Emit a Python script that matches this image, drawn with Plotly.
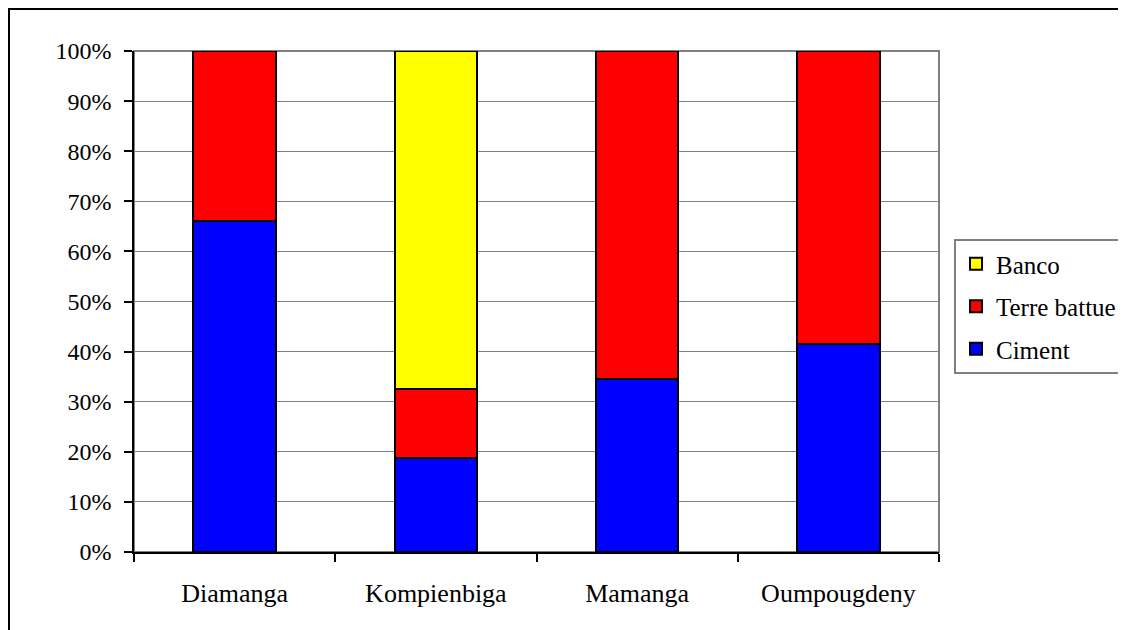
import plotly.graph_objects as go

# Share of each floor type per village (percent).
villages = ['Diamanga', 'Kompienbiga', 'Mamanga', 'Oumpougdeny']
ciment = [66.1, 18.8, 34.5, 41.5]
terre_battue = [33.9, 13.7, 65.5, 58.5]
banco = [0, 67.5, 0, 0]
y_ticks = [0, 10, 20, 30, 40, 50, 60, 70, 80, 90, 100]
y_labels = ['0%', '10%', '20%', '30%', '40%', '50%', '60%', '70%', '80%', '90%', '100%']

# The page body has an 8px margin, so the figure is drawn 8px smaller
# and every position below is in figure pixels (reference minus 8).
OFF = 8
W, H = 1126 - OFF, 630 - OFF
L, R, T, B = 134 - OFF, 1126 - 939, 51 - OFF, 630 - 552
pw, ph = W - L - R, H - T - B
FONT = 'Liberation Serif, Times New Roman, DejaVu Serif, serif'

fig = go.Figure()
for name, vals, col, rank in [('Ciment', ciment, '#0000FF', 3),
                              ('Terre battue', terre_battue, '#FF0000', 2),
                              ('Banco', banco, '#FFFF00', 1)]:
    fig.add_trace(go.Bar(x=villages, y=vals, name=name, legendgroup=name,
                         legendrank=rank,
                         marker=dict(color=col, line=dict(color='black', width=2))))

fig.update_layout(
    width=W, height=H,
    margin=dict(l=L, r=R, t=T, b=B, pad=0, autoexpand=False),
    barmode='stack', bargap=0.59,
    plot_bgcolor='white', paper_bgcolor='white',
    font=dict(family=FONT, size=24, color='black'),
    showlegend=True,
    legend=dict(xref='container', yref='container',
                x=(954 - OFF) / W, y=1 - (239 - OFF) / H,
                xanchor='left', yanchor='top', itemwidth=30,
                traceorder='grouped', tracegroupgap=7,
                bordercolor='#808080', borderwidth=2, bgcolor='white',
                font=dict(family=FONT, size=25)),
    xaxis=dict(showline=True, linecolor='black', linewidth=1.5, ticks='outside',
               tickson='boundaries', ticklen=8, tickcolor='black', tickwidth=1.5,
               ticklabelstandoff=17, showgrid=False,
               tickfont=dict(family=FONT, size=26)),
    yaxis=dict(range=[0, 100], tickvals=y_ticks, ticktext=y_labels, showline=True,
               linecolor='black', linewidth=1.5, ticks='outside', ticklen=8,
               tickcolor='black', tickwidth=1.5, showgrid=True,
               gridcolor='#808080', gridwidth=1, ticklabelstandoff=8,
               zeroline=False),
)

# Plot area border (grey) and outer chart border (black, cropped at right/bottom).
fig.add_shape(type='rect', xref='paper', yref='paper', x0=0, y0=0, x1=1, y1=1,
              line=dict(color='#808080', width=2), layer='below')
fig.add_shape(type='rect', xref='paper', yref='paper',
              x0=(1 - L) / pw, y0=-(B + 20) / ph,
              x1=(W + 20 - L) / pw, y1=1 + (T - 1) / ph,
              line=dict(color='black', width=2))

fig.write_html('out.html')
